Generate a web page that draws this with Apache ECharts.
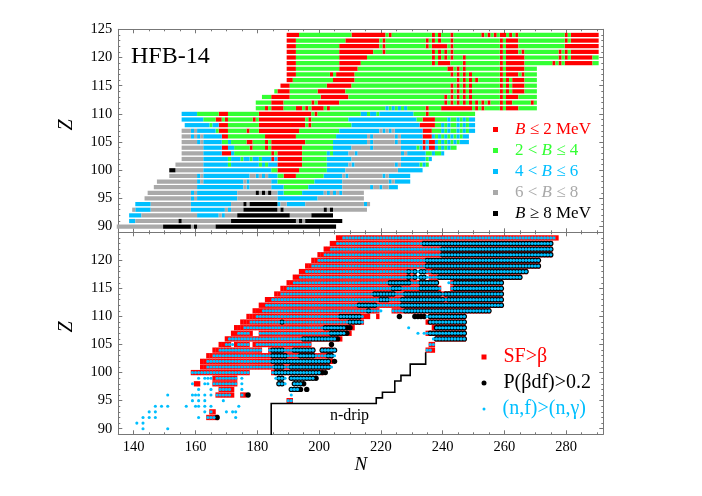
<!DOCTYPE html>
<html>
<head>
<meta charset="utf-8">
<style>html,body{margin:0;padding:0;background:#fff}#chart{width:702px;height:496px}</style>
<script src="https://cdn.jsdelivr.net/npm/echarts@6/dist/echarts.min.js"></script>
</head>
<body>
<div id="chart"></div>
<script>
var xMajor = [140,160,180,200,220,240,260,280];
var yMajor = [90,95,100,105,110,115,120,125];
var yMajorLow = [90,95,100,105,110,115,120];
var xMinor = [135,140,145,150,155,160,165,170,175,180,185,190,195,200,205,210,215,220,225,230,235,240,245,250,255,260,265,270,275,280,285,290];
var yMinor = [90,91,92,93,94,95,96,97,98,99,100,101,102,103,104,105,106,107,108,109,110,111,112,113,114,115,116,117,118,119,120,121,122,123,124,125];

// 上图: Z, 起始N, 类别, 下一段起始N, 类别 ... 结束N  (r/g/b/a/k)
var topRows = [
[124,190,'r',194,'g',211,'r',222,'g',223,'r',224,'g',237,'r',238,'g',239,'r',240,'g',243,'r',244,'g',253,'r',254,'g',255,'r',256,'g',257,'r',258,'g',259,'r',261,'g',262,'r',263,'g',264,'r',265,'g',280,'r',281,'g',282,'r',291],
[123,190,'r',193,'g',209,'r',220,'g',221,'r',222,'g',235,'r',236,'g',237,'r',238,'g',239,'r',240,'g',243,'r',244,'g',259,'r',260,'g',261,'r',265,'g',280,'r',281,'g',282,'r',291],
[122,190,'r',193,'g',207,'r',220,'g',221,'r',222,'g',235,'r',236,'g',237,'r',242,'g',243,'r',244,'g',259,'r',260,'g',261,'r',265,'g',280,'r',291],
[121,190,'r',193,'g',207,'r',218,'g',221,'r',222,'g',237,'r',238,'g',239,'r',240,'g',241,'r',242,'g',243,'r',244,'g',259,'r',260,'g',261,'r',265,'g',266,'r',267,'g',278,'r',279,'g',280,'r',281,'g',282,'r',291],
[120,190,'r',193,'g',207,'r',216,'g',237,'r',238,'g',239,'r',240,'g',241,'r',242,'g',243,'r',244,'g',247,'r',248,'g',259,'r',260,'g',261,'r',267,'g',278,'r',279,'g',280,'r',281,'g',282,'r',289,'g',291],
[119,190,'r',193,'g',207,'r',214,'g',237,'r',238,'g',239,'r',243,'g',247,'r',248,'g',259,'r',260,'g',261,'r',267,'g',276,'r',277,'g',278,'r',279,'g',280,'r',289,'g',291],
[118,190,'r',193,'g',207,'r',213,'g',242,'r',244,'g',245,'r',246,'g',247,'r',248,'g',259,'r',260,'g',261,'r',267,'g',271],
[117,190,'r',193,'g',204,'r',205,'g',206,'r',212,'g',243,'r',244,'g',245,'r',246,'g',247,'r',248,'g',249,'r',250,'g',259,'r',260,'g',261,'r',265,'g',266,'r',267,'g',271],
[116,190,'r',192,'g',205,'r',212,'g',245,'r',246,'g',247,'r',248,'g',249,'r',250,'g',251,'r',252,'g',259,'r',260,'g',261,'r',262,'g',263,'r',267,'g',271],
[115,188,'r',191,'g',203,'r',211,'g',243,'r',244,'g',245,'r',246,'g',247,'r',248,'g',249,'r',250,'g',259,'r',260,'g',261,'r',262,'g',263,'r',267,'g',271],
[114,186,'g',187,'r',191,'g',200,'r',209,'g',243,'r',244,'g',245,'r',246,'g',247,'r',248,'g',249,'r',250,'g',259,'r',260,'g',261,'r',262,'g',263,'r',267,'g',271],
[113,182,'g',185,'r',191,'g',201,'r',210,'g',241,'r',242,'g',243,'r',244,'g',245,'r',246,'g',247,'r',248,'g',249,'r',250,'g',259,'r',260,'g',261,'r',265,'g',271],
[112,180,'g',185,'r',189,'g',198,'r',199,'g',200,'r',207,'g',241,'r',242,'g',243,'r',244,'g',245,'r',246,'g',247,'r',248,'g',249,'r',250,'g',251,'r',252,'g',253,'r',254,'g',255,'r',256,'g',259,'r',260,'g',261,'r',263,'g',269,'r',270,'g',271],
[111,180,'g',183,'r',184,'g',185,'r',189,'g',193,'r',195,'g',196,'r',197,'g',198,'r',202,'g',203,'r',204,'g',222,'b',223,'g',224,'b',225,'g',226,'b',227,'g',228,'b',229,'g',235,'r',236,'g',240,'r',250,'g',251,'r',252,'g',253,'r',254,'g',259,'r',260,'g',261,'r',265,'g',271],
[110,156,'b',161,'g',168,'r',171,'g',181,'r',198,'g',199,'r',200,'g',214,'b',216,'g',217,'b',219,'g',220,'b',231,'g',235,'r',236,'g',251],
[109,156,'b',163,'g',167,'r',169,'g',170,'r',171,'g',179,'r',180,'g',181,'r',196,'g',197,'r',198,'g',210,'b',232,'g',234,'r',238,'g',242,'b',243,'g',245,'b',246,'g',247,'b',248,'g',249,'b',251],
[108,157,'b',165,'g',166,'b',168,'r',171,'g',181,'r',196,'g',197,'r',198,'g',211,'b',233,'r',238,'g',240,'b',241,'g',242,'b',243,'g',245,'b',246,'g',247,'b',248,'g',249,'b',251],
[107,156,'a',159,'b',160,'a',161,'b',167,'g',168,'r',171,'g',177,'r',178,'g',181,'r',194,'g',207,'b',220,'a',221,'b',222,'a',223,'b',224,'a',225,'b',234,'r',237,'g',240,'b',241,'g',242,'b',243,'g',245,'b',246,'g',247,'b',248,'g',249,'b',251],
[106,156,'a',159,'b',160,'a',161,'b',162,'a',163,'b',169,'r',171,'g',183,'r',193,'g',206,'b',216,'a',217,'b',218,'a',225,'b',226,'a',227,'b',234,'r',237,'b',238,'g',239,'b',240,'g',241,'b',242,'g',243,'b',244,'g',245,'b',246,'g',247,'b',249],
[105,156,'a',161,'b',162,'a',163,'b',169,'g',171,'b',172,'g',177,'r',179,'g',183,'r',184,'g',185,'r',196,'g',205,'b',216,'a',217,'b',218,'a',225,'b',226,'a',227,'b',234,'r',235,'b',236,'r',238,'b',239,'g',240,'b',241,'g',242,'b',243,'g',244,'b',245,'g',246,'b',249],
[104,156,'a',163,'b',169,'r',171,'b',173,'g',178,'r',179,'g',183,'r',184,'g',185,'r',195,'g',205,'b',211,'a',217,'b',218,'a',227,'b',232,'g',233,'b',234,'r',235,'b',236,'r',238,'b',239,'g',240,'b',241,'g',242,'b',243,'g',245],
[103,156,'a',163,'b',169,'r',172,'b',173,'g',185,'r',186,'g',187,'r',195,'g',203,'b',204,'g',205,'b',210,'a',212,'b',213,'a',227,'b',228,'a',229,'b',235,'g',237,'b',238,'g',240,'b',241],
[102,156,'a',163,'b',171,'g',172,'b',175,'g',176,'b',178,'g',179,'b',181,'g',182,'b',185,'r',186,'b',187,'r',195,'g',203,'b',211,'a',227,'b',235,'g',236,'b',237],
[101,154,'a',163,'b',171,'g',172,'b',181,'g',182,'b',183,'g',184,'b',187,'r',195,'g',203,'b',210,'a',211,'b',212,'a',225,'b',226,'a',227,'b',233,'g',234,'b',235,'g',236],
[100,152,'k',154,'a',163,'b',185,'g',187,'r',194,'g',203,'b',209,'a',226,'b',234],
[99,152,'a',161,'b',162,'a',163,'b',178,'a',180,'b',181,'a',182,'b',183,'a',184,'b',187,'g',189,'r',193,'g',202,'b',208,'a',209,'b',210,'a',221,'b',222,'a',223,'b',230],
[98,148,'a',161,'b',162,'a',163,'b',176,'a',177,'b',178,'a',185,'b',187,'g',199,'b',208,'a',223,'b',224,'a',225,'b',230],
[97,147,'a',161,'b',176,'a',177,'b',178,'a',185,'b',189,'g',197,'b',208,'a',217,'b',218,'a',220,'b',221,'a',223,'b',226],
[96,145,'a',159,'b',160,'a',161,'b',174,'a',180,'k',181,'a',182,'k',183,'a',184,'k',185,'a',187,'b',189,'g',195,'b',202,'a',203,'b',204,'a',205,'b',206,'a',207,'b',208,'a',215],
[95,144,'a',159,'b',160,'a',161,'b',174,'a',187,'b',200,'a',215],
[94,141,'b',146,'a',159,'b',172,'a',176,'k',177,'a',178,'k',187,'b',188,'a',190,'b',196,'a',215,'b',216,'a',217],
[93,140,'a',141,'b',146,'a',159,'b',170,'a',171,'b',172,'a',176,'k',187,'a',188,'k',189,'a',202,'k',203,'a',204,'k',205,'a',216],
[92,139,'b',143,'a',161,'b',168,'a',169,'b',170,'a',174,'k',191,'a',198,'k',205],
[91,139,'b',141,'a',155,'k',156,'a',172,'k',193,'a',194,'k',195,'a',196,'k',208],
[90,135,'a',150,'k',159,'a',160,'k',161,'a',167,'k',206]
];

// 下图: Z, 起始N, 结束N, 起始N, 结束N ...
var sfRows = [
[124,206,277],[123,204,275],[122,202,275],[121,200,275],[120,198,271],[119,196,271],[118,194,231,235,267],[117,192,231,236,265],
[116,190,238,243,259],[115,188,239,243,259],[114,186,259],[113,183,259],[112,181,259],[111,179,219,224,255],
[110,177,216,219,219,236,247],[109,175,214,235,247],[108,173,211,237,247],[107,172,178,181,210,235,247],[106,170,207,238,247],
[105,168,171,173,177,179,197,236,237],[104,166,181,184,198,201,204,235,237],[103,164,204],[102,162,204],[101,162,203],
[100,159,177,185,201],[99,166,173],[98,160,161,166,173],[97,168,172],[96,167,172,175,176],[95,190,191],[93,165,166],[92,164,167]
];
var bdfRows = [
[123,234,275],[122,240,275],[121,240,275],[120,235,271],[119,235,271],[118,229,229,231,231,233,234,237,267],[117,229,229,231,231,233,234,239,265],
[116,223,229,233,238,244,259],[115,224,226,233,238,244,259],[114,218,224,228,239,241,259],[113,220,222,227,240,242,259],[112,213,218,227,259],
[111,216,216,228,255],[110,207,213,226,226,231,234,236,247],[109,188,188,210,213,236,247],[108,202,210,238,247],[107,204,209,236,247],
[106,195,206,238,247],[105,204,204],[104,185,188,192,198,201,205],[103,185,189,194,198,203,204],[102,185,203,205,205],[101,186,188,191,203],
[100,186,202],[99,187,188,191,199],[98,187,188,192,195],[97,191,194,196,196],[96,177,177],[92,167,167]
];
var nfRows = [
[124,208,276],[123,206,275],[122,204,275],[121,202,275],[120,200,271],[119,198,271],[118,196,267],[117,194,265],
[116,192,238,242,259],[115,190,239,243,259],[114,188,259],[113,185,259],[112,183,259],[111,182,220,224,255],
[110,180,214,235,247],[109,178,214,236,247],[108,176,208,229,229,238,247],[107,174,177,181,208,232,232,234,247],[106,171,205,237,247],
[105,170,172,174,177,180,197,236,237],[104,168,181,184,198,201,205,235,236],[103,166,205],[102,164,203],[101,164,204],
[100,159,177,185,200],[99,161,161,163,165,167,173,175,175,186,189,191,198],[98,159,159,163,164,166,173,175,175,187,189,192,194],
[97,161,161,165,165,168,171,175,175,191,193],[96,151,151,159,161,163,163,165,165,167,171,175,175,191,191],[95,159,159,161,161,163,163,169,169,190,191],
[94,147,147,149,149,151,151,157,157,160,161,163,163,165,165,174,174],[93,145,145,147,147,163,163,165,165,170,170,172,173],
[92,143,143,145,145,147,147,161,161,164,166,173,173],[91,141,141,143,143],[90,143,143,151,151]
];

// n-drip 线的拐点
var dripN = [184.5,184.5,218.5,218.5,220.5,220.5,224.5,224.5,226.5,226.5,229.5,229.5,234.5,234.5];
var dripZ = [89,94.5,94.5,95.5,95.5,96.5,96.5,98.5,98.5,99.5,99.5,101.5,101.5,103.5];

var topNames = {r:'B ≤ 2 MeV', g:'2 < B ≤ 4', b:'4 < B ≤ 6', a:'6 < B ≤ 8', k:'B ≥ 8 MeV'};
var topColors = {r:'#ff0000', g:'#33ff33', b:'#00bfff', a:'#a9a9a9', k:'#000000'};
var topLabels = {
    'B ≤ 2 MeV':'{i|B} ≤ 2 MeV',
    '2 < B ≤ 4':'2 < {i|B} ≤ 4',
    '4 < B ≤ 6':'4 < {i|B} ≤ 6',
    '6 < B ≤ 8':'6 < {i|B} ≤ 8',
    'B ≥ 8 MeV':'{i|B} ≥ 8 MeV'
};
var fontName = '"Liberation Serif", serif';
var frameColor = '#777777';

/** 把上图的行拆成每个类别的区间 */
function topRuns(cls) {
    var list = [];
    topRows.forEach(function(row) {
        for (var i = 1; i + 2 < row.length; i += 2) {
            if (row[i + 1] === cls) {
                list.push([row[0], row[i] - 0.5, row[i + 2] - 0.5]);
            }
        }
    });
    return list;
}
/** 把下图的区间展开成点 */
function points(rows) {
    var list = [];
    rows.forEach(function(row) {
        for (var i = 1; i < row.length; i += 2) {
            for (var n = row[i]; n <= row[i + 1]; n++) {
                list.push([n, row[0]]);
            }
        }
    });
    return list;
}
function renderRun(params, api) {
    var a = api.coord([api.value(1), api.value(0)]);
    var b = api.coord([api.value(2), api.value(0)]);
    var h = 4.2;
    return {
        type: 'rect',
        shape: {x: a[0], y: a[1] - h / 2, width: b[0] - a[0], height: h},
        style: {fill: api.visual('color')}
    };
}

var grids = [
    {left: 118.3, width: 485, top: 29.3, height: 203},
    {left: 118.3, width: 485, top: 232.3, height: 202}
];
var xAxes = [];
var yAxes = [];
/** 每个小图四边都有刻度: 长刻度一根轴, 短刻度一根轴 */
[0, 1].forEach(function(g) {
    ['bottom', 'top'].forEach(function(pos) {
        var labelled = g === 1 && pos === 'bottom';
        xAxes.push({
            type: 'value', gridIndex: g, position: pos, min: 135, max: 292,
            axisLine: {show: true, onZero: false, lineStyle: {color: frameColor, width: 1}},
            axisTick: {show: true, inside: true, length: 4, customValues: xMajor, lineStyle: {color: frameColor}},
            axisLabel: labelled
                ? {show: true, customValues: xMajor, margin: 5, color: '#000', fontFamily: fontName, fontSize: 14.5}
                : {show: false},
            splitLine: {show: false},
            name: labelled ? 'N' : '', nameLocation: 'middle', nameGap: 20,
            nameTextStyle: {color: '#000', fontFamily: fontName, fontStyle: 'italic', fontSize: 19}
        });
        xAxes.push({
            type: 'value', gridIndex: g, position: pos, min: 135, max: 292,
            axisLine: {show: false, onZero: false},
            axisTick: {show: true, inside: true, length: 2, customValues: xMinor, lineStyle: {color: frameColor}},
            axisLabel: {show: false},
            splitLine: {show: false}
        });
    });
    ['left', 'right'].forEach(function(pos) {
        var major = g === 0 ? yMajor : yMajorLow;
        yAxes.push({
            type: 'value', gridIndex: g, position: pos, min: 89, max: 125,
            axisLine: {show: true, onZero: false, lineStyle: {color: frameColor, width: 1}},
            axisTick: {show: true, inside: true, length: 4, customValues: major, lineStyle: {color: frameColor}},
            axisLabel: pos === 'left'
                ? {show: true, customValues: major, margin: 6, color: '#000', fontFamily: fontName, fontSize: 14.5}
                : {show: false},
            splitLine: {show: false}
        });
        yAxes.push({
            type: 'value', gridIndex: g, position: pos, min: 89, max: 125,
            axisLine: {show: false, onZero: false},
            axisTick: {show: true, inside: true, length: 2, customValues: yMinor, lineStyle: {color: frameColor}},
            axisLabel: {show: false},
            splitLine: {show: false}
        });
    });
});

var series = [];
['r', 'g', 'b', 'a', 'k'].forEach(function(c) {
    series.push({
        name: topNames[c], type: 'custom', xAxisIndex: 0, yAxisIndex: 0,
        coordinateSystem: 'cartesian2d', renderItem: renderRun,
        itemStyle: {color: topColors[c]}, encode: {x: [1, 2], y: 0}, data: topRuns(c), z: 3
    });
});
series.push({
    name: 'SF>β', type: 'scatter', xAxisIndex: 4, yAxisIndex: 4, symbol: 'rect', symbolSize: [3.4, 5.3],
    itemStyle: {color: '#ff0000', opacity: 1}, data: points(sfRows), progressive: 0, z: 3
});
series.push({
    name: 'P(βdf)>0.2', type: 'scatter', xAxisIndex: 4, yAxisIndex: 4, symbol: 'circle', symbolSize: 5.4,
    itemStyle: {color: '#000000', opacity: 1}, data: points(bdfRows), progressive: 0, z: 4
});
series.push({
    name: '(n,f)>(n,γ)', type: 'scatter', xAxisIndex: 4, yAxisIndex: 4, symbol: 'circle', symbolSize: 3.1,
    itemStyle: {color: '#00bfff', opacity: 1}, data: points(nfRows), progressive: 0, z: 5
});
series.push({
    name: 'n-drip', type: 'line', xAxisIndex: 4, yAxisIndex: 4, showSymbol: false, z: 6, clip: true,
    lineStyle: {color: '#000', width: 1.6, cap: 'square', join: 'miter'},
    data: dripN.map(function(n, i) { return [n, dripZ[i]]; })
});

var option = {
    animation: false,
    backgroundColor: '#fff',
    grid: grids,
    xAxis: xAxes,
    yAxis: yAxes,
    legend: [{
        orient: 'vertical', left: 493, top: 121, itemWidth: 5, itemHeight: 5, itemGap: 4, padding: 0,
        data: ['r', 'g', 'b', 'a', 'k'].map(function(c) {
            return {name: topNames[c], icon: 'rect', itemStyle: {color: topColors[c]}, textStyle: {color: topColors[c]}};
        }),
        formatter: function(name) { return topLabels[name]; },
        textStyle: {
            fontFamily: fontName, fontSize: 17, padding: [0, 0, 0, 12],
            rich: {i: {fontFamily: fontName, fontSize: 17, fontStyle: 'italic'}}
        }
    }, {
        orient: 'vertical', left: 481.5, top: 347, itemWidth: 5, itemHeight: 5, itemGap: 6, padding: 0,
        data: [
            {name: 'SF>β', icon: 'rect', textStyle: {color: '#ff0000'}},
            {name: 'P(βdf)>0.2', icon: 'circle', textStyle: {color: '#000000'}}
        ],
        textStyle: {fontFamily: fontName, fontSize: 20, padding: [0, 0, 0, 12]}
    }, {
        left: 482.5, top: 399, itemWidth: 3, itemHeight: 3, padding: 0,
        data: [{name: '(n,f)>(n,γ)', icon: 'circle', textStyle: {color: '#00bfff'}}],
        textStyle: {fontFamily: fontName, fontSize: 20, padding: [0, 0, 0, 12]}
    }],
    graphic: [
        {type: 'text', left: 131, top: 45, z: 10, style: {text: 'HFB-14', fill: '#000', font: '24px "Liberation Serif", serif'}},
        {type: 'text', left: 330, top: 408, z: 10, style: {text: 'n-drip', fill: '#000', font: '16px "Liberation Serif", serif'}},
        {type: 'text', x: 67, y: 125, rotation: Math.PI / 2, z: 10, style: {text: 'Z', fill: '#000', font: 'italic 20px "Liberation Serif", serif', align: 'center', verticalAlign: 'middle'}},
        {type: 'text', x: 67, y: 327, rotation: Math.PI / 2, z: 10, style: {text: 'Z', fill: '#000', font: 'italic 20px "Liberation Serif", serif', align: 'center', verticalAlign: 'middle'}}
    ],
    series: series
};

var myChart = echarts.init(document.getElementById('chart'), null, {renderer: 'canvas'});
myChart.setOption(option);
</script>
</body>
</html>
